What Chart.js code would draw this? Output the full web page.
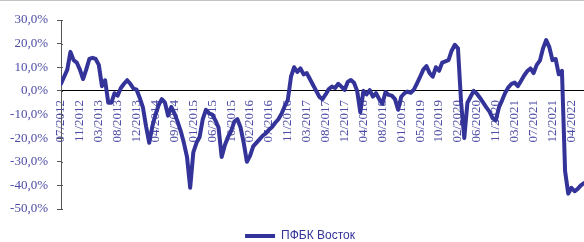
<!DOCTYPE html>
<html>
<head>
<meta charset="utf-8">
<script src="https://cdn.jsdelivr.net/npm/chart.js@4.4.1/dist/chart.umd.min.js"></script>
<style>
  html, body { margin: 0; padding: 0; background: #fff; }
  #wrap { position: relative; width: 584px; height: 242px; }
  #topline { position: absolute; left: 0; top: 0; width: 584px; height: 1px; background: #c3c3c3; }
</style>
</head>
<body>
<div id="wrap">
  <canvas id="myLineChart"></canvas>
  <div id="topline"></div>
</div>
<script>
const seriesName = 'ПФБК Восток';

// date labels under the zero line, one every ~4 months
const tickLabels = ['07/2012', '11/2012', '03/2013', '08/2013', '12/2013', '04/2014', '09/2014',
    '01/2015', '06/2015', '10/2015', '02/2016', '07/2016', '11/2016', '03/2017', '08/2017',
    '12/2017', '04/2018', '08/2018', '01/2019', '05/2019', '10/2019', '02/2020', '06/2020',
    '11/2020', '03/2021', '07/2021', '12/2021', '04/2022'];

// readings per tick interval
const pointsPerTick = 6;

// % values, evenly spaced
const pfbkVostok = [
    3, 6, 9, 16.5, 13, 12, 9, 5, 9, 13.5, 14, 13.5,
    11, 2, 4.5, -5, -5, -1, -2, 1.2, 3, 4.5, 3, 1,
    0.5, -3, -7, -15, -22, -15, -10, -6, -3.5, -5, -10.5, -6.8,
    -9.5, -13, -17, -22, -28, -41, -26, -22, -19.5, -12, -8, -9.5,
    -10, -12.5, -15.5, -28, -23, -19.5, -17, -13, -12, -15.5, -22, -30,
    -27.5, -23.5, -22, -20.5, -19, -18, -16.5, -15.3, -13.5, -12, -9.7, -6.5,
    -3.8, 6, 10, 8, 9.5, 7, 7.5, 5, 2.5, 0, -2.5, -3.5,
    -1.5, 0.8, 1.8, 1.2, 3, 1.8, 0.4, 3.8, 4.6, 3.4, 0, -9,
    0, -1.5, 0.3, -2.4, -1, -3.5, -5.5, -0.5, -1.7, -2, -3.5, -8,
    -2.5, -1, -0.3, -0.8, 0.5, 3.2, 6, 9, 10.5, 7.5, 6, 10,
    8.5, 12, 12.5, 13, 17, 19.5, 18, -5, -20, -5, -2.5, 0,
    -1.2, -3, -5, -7, -8.8, -11.5, -12.5, -7, -4, -0.8, 1.5, 3,
    3.5, 2, 4.2, 6.5, 8.4, 9.5, 7.5, 11, 12.8, 18, 21.5, 18.5,
    13, 13.5, 7, 8.5, -34, -43.5, -41, -42.5, -41.5, -40, -39
];

const yMin = -50;
const yMax = 30;
const yStep = 10;

const lineColor = '#333399';
const labelColor = '#4b4ba5';

// small tick marks crossing the y axis
const crossTicks = {
    id: 'crossTicks',
    afterDraw(chart) {
        const y = chart.scales.y;
        const ctx = chart.ctx;
        ctx.save();
        ctx.strokeStyle = '#555';
        ctx.lineWidth = 1;
        y.ticks.forEach(t => {
            const py = Math.round(y.getPixelForValue(t.value)) + 0.5;
            ctx.beginPath();
            ctx.moveTo(y.right, py);
            ctx.lineTo(y.right + 2, py);
            ctx.stroke();
        });
        ctx.restore();
    }
};

// nudge the legend down/right like in the source image
const legendShift = {
    id: 'legendShift',
    afterLayout(chart) {
        const lg = chart.legend;
        lg.left += 8; lg.right += 8;
        lg.top += 10; lg.bottom += 10;
    }
};

function renderChart() {
    const ctx = document.getElementById('myLineChart').getContext('2d');
    const points = pfbkVostok.map((v, i) => ({x: i / pointsPerTick, y: v}));

    new Chart(ctx, {
        type: 'line',
        data: {
            datasets: [{
                label: seriesName,
                data: points,
                borderColor: lineColor,
                backgroundColor: lineColor,
                borderWidth: 4,
                borderCapStyle: 'round',
                borderJoinStyle: 'round',
                pointRadius: 0,
                tension: 0
            }]
        },
        options: {
            responsive: true,
            maintainAspectRatio: false,
            animation: false,
            layout: { padding: { top: 20, right: 0, bottom: 0, left: 0 } },
            plugins: {
                tooltip: { enabled: false },
                legend: {
                    position: 'bottom',
                    labels: {
                        usePointStyle: true,
                        pointStyle: 'line',
                        pointStyleWidth: 30,
                        padding: 11,
                        color: lineColor,
                        font: { family: "'Liberation Sans', Arial, sans-serif", size: 12 }
                    }
                }
            },
            scales: {
                x: {
                    type: 'linear',
                    position: { y: 0 },
                    min: 0,
                    max: (pfbkVostok.length - 1) / pointsPerTick,
                    afterBuildTicks: s => { s.ticks = tickLabels.map((_, i) => ({value: i})); },
                    afterFit: s => { s.paddingLeft = 0; s.paddingRight = 0; },
                    grid: { display: false, drawTicks: false },
                    border: { display: true, color: '#000', width: 1 },
                    ticks: {
                        autoSkip: false,
                        minRotation: 90,
                        maxRotation: 90,
                        padding: 9,
                        color: labelColor,
                        font: { family: "'Liberation Serif', 'Times New Roman', serif", size: 13 },
                        callback: v => tickLabels[v]
                    }
                },
                y: {
                    min: yMin,
                    max: yMax,
                    afterFit: s => { s.width = 61; },
                    grid: { drawOnChartArea: false, drawTicks: true, tickLength: 4, color: '#555' },
                    border: { display: true, color: '#555', width: 1 },
                    ticks: {
                        stepSize: yStep,
                        padding: 9,
                        color: labelColor,
                        font: { family: "'Liberation Serif', 'Times New Roman', serif", size: 13 },
                        callback: v => v.toFixed(1).replace('.', ',') + '%'
                    }
                }
            }
        },
        plugins: [crossTicks, legendShift]
    });
}

document.addEventListener('DOMContentLoaded', renderChart);
</script>
</body>
</html>
